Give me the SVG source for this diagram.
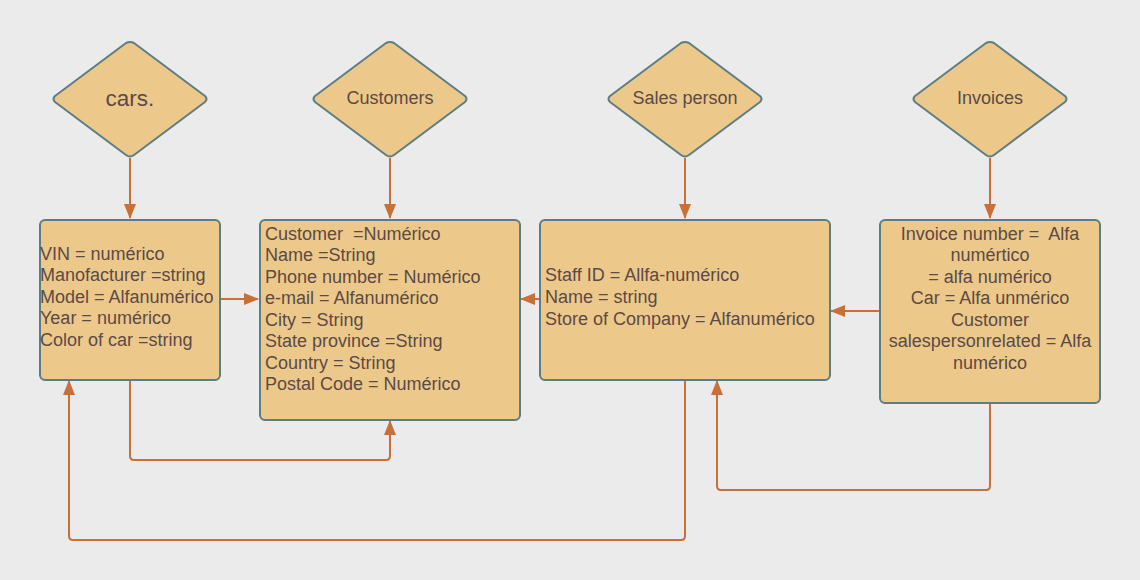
<svg xmlns="http://www.w3.org/2000/svg" width="1140" height="580" viewBox="0 0 1140 580">
<defs>
<marker id="ah" viewBox="0 0 15 12" refX="14" refY="6" markerWidth="15" markerHeight="12" markerUnits="userSpaceOnUse" orient="auto">
<path d="M0,0 L15,6 L0,12 Z" fill="#c96f38"/>
</marker>
<style>
.shape{fill:#edc88b;stroke:#5e7d80;stroke-width:2;stroke-linejoin:round}
.t{font-family:"Liberation Sans",Arial,sans-serif;font-size:18px;fill:#5b4a45}
.c{text-anchor:middle}
.conn path{fill:none;stroke:#c96f38;stroke-width:2;marker-end:url(#ah)}
</style>
</defs>
<rect width="1140" height="580" fill="#ebebeb"/>
<g class="conn" id="connectors">
<path d="M130,158 V218"/>
<path d="M390,158 V218"/>
<path d="M685,158 V218"/>
<path d="M990,158 V218"/>
<path d="M220,299 H258"/>
<path d="M540,299 H521"/>
<path d="M880,311 H831"/>
<path d="M130,380 V456 Q130,460 134,460 H386 Q390,460 390,456 V421"/>
<path d="M685,380 V536 Q685,540 681,540 H73 Q69,540 69,536 V381"/>
<path d="M990,403 V486 Q990,490 986,490 H721 Q717,490 717,486 V381"/>
</g>
<g id="d-cars">
<path class="shape" d="M126,43 Q130,41 134,43 L205,96 Q208,99 205,102 L134,155 Q130,158 126,155 L55,102 Q52,99 55,96 Z"/>
<text class="t c" x="130" y="106" style="font-size:22.5px">cars.</text>
</g>
<g id="d-customers">
<path class="shape" d="M386,43 Q390,41 394,43 L465,96 Q468,99 465,102 L394,155 Q390,158 386,155 L315,102 Q312,99 315,96 Z"/>
<text class="t c" x="390" y="104">Customers</text>
</g>
<g id="d-sales">
<path class="shape" d="M681,43 Q685,41 689,43 L760,96 Q763,99 760,102 L689,155 Q685,158 681,155 L610,102 Q607,99 610,96 Z"/>
<text class="t c" x="685" y="104">Sales person</text>
</g>
<g id="d-invoices">
<path class="shape" d="M986,43 Q990,41 994,43 L1065,96 Q1068,99 1065,102 L994,155 Q990,158 986,155 L915,102 Q912,99 915,96 Z"/>
<text class="t c" x="990" y="104">Invoices</text>
</g>
<g id="b-cars">
<rect class="shape" x="40" y="220" width="180" height="160" rx="5"/>
<text class="t" x="40" y="260">VIN = numérico</text>
<text class="t" x="40" y="281">Manofacturer =string</text>
<text class="t" x="40" y="303">Model = Alfanumérico</text>
<text class="t" x="40" y="324">Year = numérico</text>
<text class="t" x="40" y="346">Color of car =string</text>
</g>
<g id="b-customers">
<rect class="shape" x="260" y="220" width="260" height="200" rx="5"/>
<text class="t" x="265" y="240" xml:space="preserve">Customer  =Numérico</text>
<text class="t" x="265" y="261">Name =String</text>
<text class="t" x="265" y="283">Phone number = Numérico</text>
<text class="t" x="265" y="304">e-mail = Alfanumérico</text>
<text class="t" x="265" y="326">City = String</text>
<text class="t" x="265" y="347">State province =String</text>
<text class="t" x="265" y="369">Country = String</text>
<text class="t" x="265" y="390">Postal Code = Numérico</text>
</g>
<g id="b-sales">
<rect class="shape" x="540" y="220" width="290" height="160" rx="5"/>
<text class="t" x="545" y="281">Staff ID = Allfa-numérico</text>
<text class="t" x="545" y="303">Name = string</text>
<text class="t" x="545" y="325">Store of Company = Alfanumérico</text>
</g>
<g id="b-invoices">
<rect class="shape" x="880" y="220" width="220" height="183" rx="5"/>
<text class="t c" x="990" y="240" xml:space="preserve">Invoice number =  Alfa</text>
<text class="t c" x="990" y="261">numértico</text>
<text class="t c" x="990" y="283">= alfa numérico</text>
<text class="t c" x="990" y="304">Car = Alfa unmérico</text>
<text class="t c" x="990" y="326">Customer</text>
<text class="t c" x="990" y="347">salespersonrelated = Alfa</text>
<text class="t c" x="990" y="369">numérico</text>
</g>
</svg>
